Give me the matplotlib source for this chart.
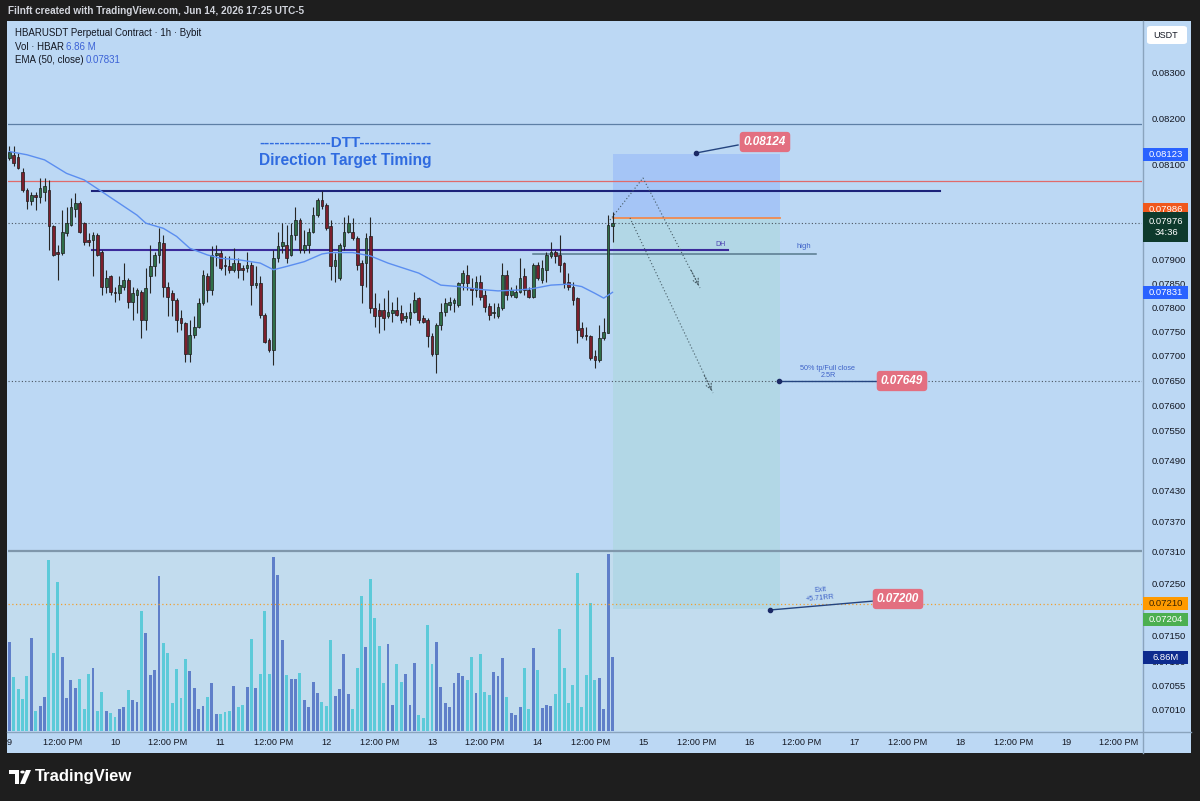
import numpy as np
import matplotlib.pyplot as plt
from matplotlib.patches import Rectangle, Polygon, Circle, FancyBboxPatch
from matplotlib.lines import Line2D
from matplotlib.ticker import NullLocator

plt.rcParams['font.family'] = ['Liberation Sans', 'DejaVu Sans']

# HBARUSDT 1h candles, day 9 00:00 -> day 14 17:00 (hour index 0..137)
opens = [.08114, .08122, .08118, .08086, .08047, .08022, .08036, .08032, .08043, .08047,
         .07969, .07916, .07913, .07955, .07972, .08007, .08018, .07976, .07941, .07941,
         .07951, .07916, .07843, .07864, .07832, .07829, .07843, .07857, .07812, .07825,
         .07832, .07774, .07864, .07885, .07909, .07934, .07843, .07829, .07815, .07777,
         .07767, .07705, .07743, .07760, .07808, .07864, .07836, .07909, .07913, .07888,
         .07885, .07878, .07892, .07881, .07881, .07888, .07846, .07850, .07784, .07733,
         .07712, .07902, .07927, .07930, .07909, .07951, .07983, .07920, .07930, .07958,
         .07993, .08025, .08015, .07969, .07885, .07860, .07927, .07958, .07958, .07944,
         .07892, .07892, .07948, .07798, .07795, .07795, .07781, .07788, .07795, .07788,
         .07777, .07777, .07791, .07819, .07777, .07774, .07740, .07705, .07763, .07791,
         .07805, .07808, .07805, .07850, .07867, .07839, .07836, .07853, .07825, .07802,
         .07788, .07781, .07798, .07867, .07825, .07822, .07832, .07864, .07836, .07822,
         .07888, .07857, .07878, .07906, .07916, .07909, .07892, .07853, .07843, .07819,
         .07757, .07743, .07740, .07699, .07692, .07736, .07746, .07969]
highs = [.08140, .08140, .08125, .08093, .08050, .08043, .08043, .08072, .08072, .08068,
         .07972, .07930, .08004, .08011, .08029, .08039, .08022, .07979, .07955, .07958,
         .07955, .07920, .07878, .07867, .07843, .07864, .07892, .07860, .07843, .07839,
         .07836, .07881, .07930, .07916, .07965, .07951, .07853, .07836, .07819, .07795,
         .07770, .07774, .07781, .07819, .07878, .07871, .07927, .07930, .07920, .07906,
         .07906, .07923, .07902, .07888, .07916, .07895, .07885, .07864, .07788, .07736,
         .07920, .07958, .07976, .07972, .07976, .08011, .07986, .07962, .07965, .08011,
         .08029, .08044, .08018, .07983, .07913, .07934, .07990, .07993, .07986, .07948,
         .07899, .07955, .07990, .07829, .07808, .07819, .07836, .07812, .07822, .07805,
         .07791, .07808, .07832, .07822, .07784, .07777, .07746, .07767, .07808, .07819,
         .07822, .07819, .07853, .07878, .07888, .07860, .07864, .07867, .07836, .07809,
         .07808, .07808, .07892, .07878, .07843, .07846, .07902, .07881, .07843, .07892,
         .07895, .07899, .07916, .07937, .07920, .07951, .07895, .07871, .07853, .07822,
         .07770, .07760, .07743, .07712, .07763, .07777, .07993, .08000]
lows = [.08110, .08097, .08091, .08043, .08007, .08015, .08004, .08018, .08022, .07920,
        .07906, .07857, .07909, .07948, .07969, .07990, .07955, .07930, .07927, .07864,
        .07906, .07826, .07829, .07826, .07812, .07815, .07836, .07798, .07774, .07788,
        .07736, .07753, .07829, .07864, .07892, .07822, .07781, .07781, .07750, .07753,
        .07688, .07688, .07736, .07757, .07805, .07812, .07825, .07885, .07878, .07867,
        .07871, .07874, .07860, .07857, .07874, .07805, .07839, .07777, .07726, .07709,
        .07682, .07895, .07913, .07892, .07906, .07941, .07913, .07913, .07913, .07955,
        .07990, .08007, .07962, .07857, .07853, .07857, .07920, .07955, .07941, .07878,
        .07808, .07843, .07788, .07760, .07746, .07753, .07777, .07770, .07781, .07767,
        .07770, .07763, .07788, .07767, .07767, .07719, .07699, .07665, .07753, .07781,
        .07795, .07791, .07801, .07836, .07836, .07805, .07822, .07815, .07791, .07774,
        .07777, .07777, .07795, .07815, .07822, .07819, .07829, .07825, .07819, .07819,
        .07857, .07850, .07853, .07902, .07892, .07874, .07839, .07836, .07805, .07726,
        .07736, .07733, .07692, .07675, .07688, .07733, .07746, .07937]
closes = [.08129, .08104, .08093, .08047, .08022, .08036, .08031, .08050, .08054, .07969,
          .07909, .07911, .07958, .07976, .08011, .08018, .07958, .07937, .07937, .07951,
          .07909, .07843, .07860, .07832, .07829, .07846, .07857, .07812, .07829, .07836,
          .07774, .07839, .07885, .07909, .07937, .07843, .07822, .07815, .07774, .07767,
          .07705, .07743, .07760, .07808, .07867, .07836, .07909, .07913, .07881, .07885,
          .07878, .07892, .07878, .07878, .07888, .07846, .07850, .07784, .07729, .07712,
          .07902, .07927, .07937, .07902, .07951, .07983, .07920, .07930, .07958, .07993,
          .08025, .08012, .07965, .07885, .07899, .07930, .07958, .07976, .07944, .07888,
          .07846, .07944, .07798, .07781, .07781, .07777, .07791, .07795, .07784, .07774,
          .07781, .07791, .07815, .07774, .07770, .07740, .07705, .07763, .07791, .07808,
          .07812, .07815, .07850, .07871, .07850, .07836, .07853, .07822, .07801, .07784,
          .07791, .07801, .07867, .07825, .07836, .07832, .07860, .07836, .07822, .07888,
          .07860, .07881, .07909, .07916, .07906, .07888, .07850, .07843, .07815, .07753,
          .07740, .07740, .07695, .07692, .07736, .07750, .07972, .07976]
volume_m = [8.25, 5.02, 3.88, 2.92, 5.11, 8.55, 1.88, 2.34, 3.11, 15.79,
            7.17, 13.72, 6.80, 3.08, 4.68, 3.97, 4.77, 2.03, 5.26, 5.78,
            1.88, 3.63, 1.88, 1.63, 1.32, 2.03, 2.25, 3.78, 2.86, 2.71,
            11.08, 9.02, 5.17, 5.63, 14.31, 8.15, 7.23, 2.62, 5.72, 3.02,
            6.68, 5.57, 3.97, 2.00, 2.31, 3.17, 4.40, 1.57, 1.57, 1.78,
            1.88, 4.15, 2.18, 2.40, 4.03, 8.49, 3.97, 5.26, 11.08, 5.26,
            16.03, 14.40, 8.40, 5.17, 4.77, 4.77, 5.32, 2.86, 2.25, 4.49,
            3.48, 2.65, 2.34, 8.40, 3.23, 3.85, 7.08, 3.42, 2.03, 5.85,
            12.46, 7.72, 14.03, 10.46, 7.88, 4.46, 8.00, 2.40, 6.15, 4.49,
            5.26, 2.40, 6.31, 1.48, 1.17, 9.78, 6.18, 8.18, 4.09, 2.62,
            2.18, 4.40, 5.38, 5.08, 4.71, 6.86, 3.48, 7.08, 3.57, 3.32,
            5.45, 5.08, 6.71, 3.11, 1.63, 1.48, 2.25, 5.78, 2.00, 7.63,
            5.63, 2.09, 2.40, 2.31, 3.38, 9.38, 5.78, 2.55, 4.25, 14.62,
            2.25, 5.17, 11.78, 4.71, 4.86, 2.03, 16.34, 6.86]
# EMA(50) at a few bars
ema_idx = [0, 4, 8, 13, 17, 21, 25, 29, 31, 35, 38, 41, 45, 48, 52, 57, 60, 63, 67,
           71, 73, 78, 82, 86, 93, 98, 102, 107, 111, 116, 119, 123, 127, 130, 133, 135, 137]
ema_val = [.08129, .08122, .08111, .08082, .08068, .08043, .08018, .07993, .07976, .07965,
           .07948, .07923, .07909, .07902, .07899, .07892, .07878, .07885, .07895,
           .07911, .07914, .07914, .07907, .07892, .07871, .07846, .07843, .07837, .07834,
           .07836, .07839, .07846, .07848, .07843, .07829, .07819, .07831]

price_ticks = [0.083, 0.082, 0.081, 0.079, 0.0785, 0.078, 0.0775, 0.077, 0.0765, 0.076,
               0.0755, 0.0749, 0.0743, 0.0737, 0.0731, 0.0725, 0.0715, 0.0710, 0.07055, 0.0701]
time_ticks = list(range(0, 253, 12))
time_labels = []
for d in range(9, 20):
    time_labels += [str(d), '12:00 PM']

entry, stop, target = 0.07986, 0.08124, 0.07200
last_price, ema_last, tp1 = 0.07976, 0.07831, 0.07649

W, H = 1200, 801
P0, Y0, K = 0.083, 73.0, 3771.0          # log price scale


def py(p):
    return Y0 + K * np.log(P0 / p)


def pp(y):
    return P0 * np.exp(-(y - Y0) / K)


def hx(x):
    return (x - 9.3) / 4.403               # pixel -> hours since day 9 00:00


def fx(x):
    return x / W


def fy(y):
    return 1 - y / H


fig = plt.figure(figsize=(12, 8.01), dpi=100)
fig.patch.set_facecolor('#1e1e1e')

# panel backgrounds
fig.add_artist(Rectangle((fx(7), fy(753)), fx(1184), 732 / H, transform=fig.transFigure,
                         fc='#bcd8f4', ec='none', zorder=-3))
fig.add_artist(Rectangle((fx(8), fy(731)), fx(1134), (731 - py(0.07312)) / H,
                         transform=fig.transFigure, fc='#c2dcee', ec='none', zorder=-2))

ax = fig.add_axes([fx(8), fy(731), fx(1134), 709 / H])
ax.patch.set_visible(False)
ax.set_yscale('log')
ax.set_ylim(pp(731), pp(22))
ax.set_xlim(hx(8), hx(1142))
for s in ax.spines.values():
    s.set_visible(False)

# volume overlay (own scale, behind the price marks)
axv = ax.twinx()
axv.set_zorder(-1)
ax.set_zorder(1)
axv.set_ylim(0, 709 * 0.0923)
axv.axis('off')

o = np.array(opens)
c = np.array(closes)
hrs = np.arange(len(c))
up = c >= o
axv.bar(hrs, volume_m, width=0.66, color=np.where(up, '#5f7fc9', '#5ccad9'), zorder=1)

# position tool (short)
ax.fill_between([137, 175], entry, stop, color='#a5c5f6', zorder=1, lw=0)
ax.fill_between([137, 175], target, entry, color='#b2d7e6', zorder=1, lw=0)
ax.plot([137, 175], [entry, entry], color='#f08a50', lw=1.3, zorder=2)

# horizontal levels
ax.axhline(pp(124), color='#5d7fa5', lw=0.9, zorder=2)
ax.axhline(pp(181), color='#e06a6a', lw=0.9, zorder=2)
ax.plot([hx(92), hx(940)], [pp(190.5), pp(190.5)], color='#1c237a', lw=1.5, zorder=2)
ax.plot([hx(92), hx(728)], [pp(250), pp(250)], color='#3b2a9a', lw=1.5, zorder=2)
ax.plot([hx(533), hx(816)], [pp(254), pp(254)], color='#57798c', lw=1.1, zorder=2)
ax.axhline(pp(551), color='#7f97ab', lw=1.6, zorder=2)
ax.axhline(last_price, color='#4a5560', lw=0.8, ls=(0, (1, 2)), zorder=2)
ax.axhline(tp1, color='#4a5560', lw=0.8, ls=(0, (1, 2)), zorder=2)
ax.axhline(0.07210, color='#f0a030', lw=0.9, ls=(0, (1, 2)), zorder=2)
ax.text(hx(720), pp(244), 'DH', color='#4a3fb0', fontsize=5, ha='center', va='center', zorder=3)
ax.text(hx(804), pp(247), 'high', color='#3f63c8', fontsize=5.5, ha='center', va='center', zorder=3)

# candles + EMA
ax.vlines(hrs, lows, highs, color='#262626', lw=0.8, zorder=3)
body_lo = np.minimum(o, c)
body_h = np.maximum(np.abs(c - o), 0.000025)
ax.bar(hrs, body_h, bottom=body_lo, width=0.62, color=np.where(up, '#2f6e48', '#7c1f2c'),
       edgecolor='#1b1b1b', linewidth=0.5, zorder=4)
ax.plot(ema_idx, ema_val, color='#5b8ef0', lw=1.0, zorder=5)

# projected path
dot = dict(color='#455a64', lw=0.8, ls=(0, (1, 2)))
ax.plot([hx(610), hx(643), hx(700)], [pp(220), pp(178), pp(288)], zorder=5, **dot)
ax.plot([hx(630), hx(713)], [pp(218), pp(393)], zorder=5, **dot)
for x0, y0, x1, y1 in [(690, 268, 700, 288), (703, 373, 713, 393)]:
    ax.annotate('', xy=(hx(x1), pp(y1)), xytext=(hx(x0), pp(y0)),
                arrowprops=dict(arrowstyle='->', color='#455a64', lw=0.8, ls=':'), zorder=5)

# DTT title
ax.text(hx(345), pp(143), '--------------DTT--------------', color='#2f6be0', fontsize=11,
        fontweight='bold', ha='center', va='center', zorder=6)
ax.text(hx(345), pp(160), 'Direction Target Timing', color='#2f6be0', fontsize=11.2,
        fontweight='bold', ha='center', va='center', zorder=6)

# price callouts
lbl = dict(color='white', fontsize=8.5, fontweight='bold', fontstyle='italic', ha='center',
           va='center', zorder=7,
           bbox=dict(boxstyle='round,pad=0.35,rounding_size=0.3', fc='#e36f80', ec='none'))
ax.plot([hx(696), hx(738)], [pp(153), pp(145)], color='#24447f', lw=1.0, zorder=6)
ax.plot(hx(696), pp(153), 'o', ms=3, color='#1b2a66', zorder=7)
ax.text(hx(765), pp(142), '0.08124', **lbl)
ax.plot([hx(779), hx(878)], [tp1, tp1], color='#24447f', lw=1.0, zorder=6)
ax.plot(hx(779), tp1, 'o', ms=3, color='#1b2a66', zorder=7)
ax.text(hx(902), tp1, '0.07649', **lbl)
ax.text(hx(828), pp(368), '50% tp/Full close', color='#3f63c8', fontsize=5.2, ha='center', va='center', zorder=6)
ax.text(hx(828), pp(376), '2.5R', color='#3f63c8', fontsize=5.2, ha='center', va='center', zorder=6)
ax.plot([hx(770), hx(874)], [pp(610), pp(601)], color='#24447f', lw=1.0, zorder=6)
ax.plot(hx(770), pp(610), 'o', ms=3, color='#1b2a66', zorder=7)
ax.text(hx(898), pp(599), '0.07200', **lbl)
ax.text(hx(820), pp(590), 'Exit', color='#3f63c8', fontsize=5.2, ha='center', va='center',
        rotation=5, zorder=6)
ax.text(hx(820), pp(598), '+5.71RR', color='#3f63c8', fontsize=5.2, ha='center', va='center',
        rotation=5, zorder=6)

# axes ticks
ax.yaxis.tick_right()
ax.yaxis.set_minor_locator(NullLocator())
ax.set_yticks(price_ticks)
ax.set_yticklabels([f'{t:.5f}' for t in price_ticks])
ax.tick_params(axis='y', length=0, pad=7, labelsize=6.8, labelcolor='#131722')
ax.set_xticks(time_ticks)
ax.set_xticklabels(time_labels)
ax.tick_params(axis='x', length=0, pad=5, labelsize=6.6, labelcolor='#131722')

# frame lines
for xs, ys in [([1142.5, 1142.5], [21, 753]), ([7, 1191], [731.5, 731.5])]:
    fig.add_artist(Line2D([fx(v) for v in xs], [fy(v) for v in ys], transform=fig.transFigure,
                          color='#8aa4bd', lw=1.0, zorder=4))


def badge(y, text, fc, tc='white', h=13):
    fig.add_artist(Rectangle((fx(1143), fy(y + h / 2)), fx(45), h / H, transform=fig.transFigure,
                             fc=fc, ec='none', zorder=5))
    fig.text(fx(1166), fy(y), text, color=tc, ha='center', va='center', fontsize=6.8,
             linespacing=1.35, zorder=6)


badge(py(0.08123), '0.08123', '#2962ff')
badge(210, '0.07986', '#f0581c')
badge(227, '0.07976\n34:36', '#0e3a2c', h=30)
badge(py(ema_last), '0.07831', '#2962ff')
badge(py(0.07210), '0.07210', '#ff9a00', tc='#3a2400')
badge(619, '0.07204', '#4caf50')
badge(657, '6.86M', '#0d2b8e')

fig.add_artist(FancyBboxPatch((fx(1147), fy(44)), fx(40), 18 / H, transform=fig.transFigure,
                              boxstyle='round,pad=0,rounding_size=0.003', fc='white', ec='none', zorder=5))
fig.text(fx(1166), fy(35), 'USDT', color='#131722', ha='center', va='center', fontsize=6.5, zorder=6)

# header / legend
fig.text(fx(8), fy(11), 'Filnft created with TradingView.com, Jun 14, 2026 17:25 UTC-5',
         color='#d1d4dc', fontsize=7.2, fontweight='bold', va='center')
fig.text(fx(15), fy(33), 'HBARUSDT Perpetual Contract · 1h · Bybit', color='#131722', fontsize=7, va='center')
fig.text(fx(15), fy(47), 'Vol · HBAR', color='#131722', fontsize=7, va='center')
fig.text(fx(66), fy(47), '6.86 M', color='#3b62d6', fontsize=7, va='center')
fig.text(fx(15), fy(60), 'EMA (50, close)', color='#131722', fontsize=7, va='center')
fig.text(fx(86), fy(60), '0.07831', color='#3b62d6', fontsize=7, va='center')

# TradingView logo
fig.add_artist(Polygon([[fx(9), fy(770)], [fx(19), fy(770)], [fx(19), fy(784)], [fx(15), fy(784)],
                        [fx(15), fy(774)], [fx(9), fy(774)]], closed=True, transform=fig.transFigure,
                       fc='white', ec='none'))
fig.add_artist(Circle((fx(22.5), fy(772)), 2.2 / W, transform=fig.transFigure, fc='white', ec='none'))
fig.add_artist(Polygon([[fx(26), fy(770)], [fx(31), fy(770)], [fx(25), fy(784)], [fx(20), fy(784)]],
                       closed=True, transform=fig.transFigure, fc='white', ec='none'))
fig.text(fx(35), fy(777), 'TradingView', color='white', fontsize=12, fontweight='bold', va='center')

fig.savefig('out.png', dpi=100, facecolor=fig.get_facecolor())
